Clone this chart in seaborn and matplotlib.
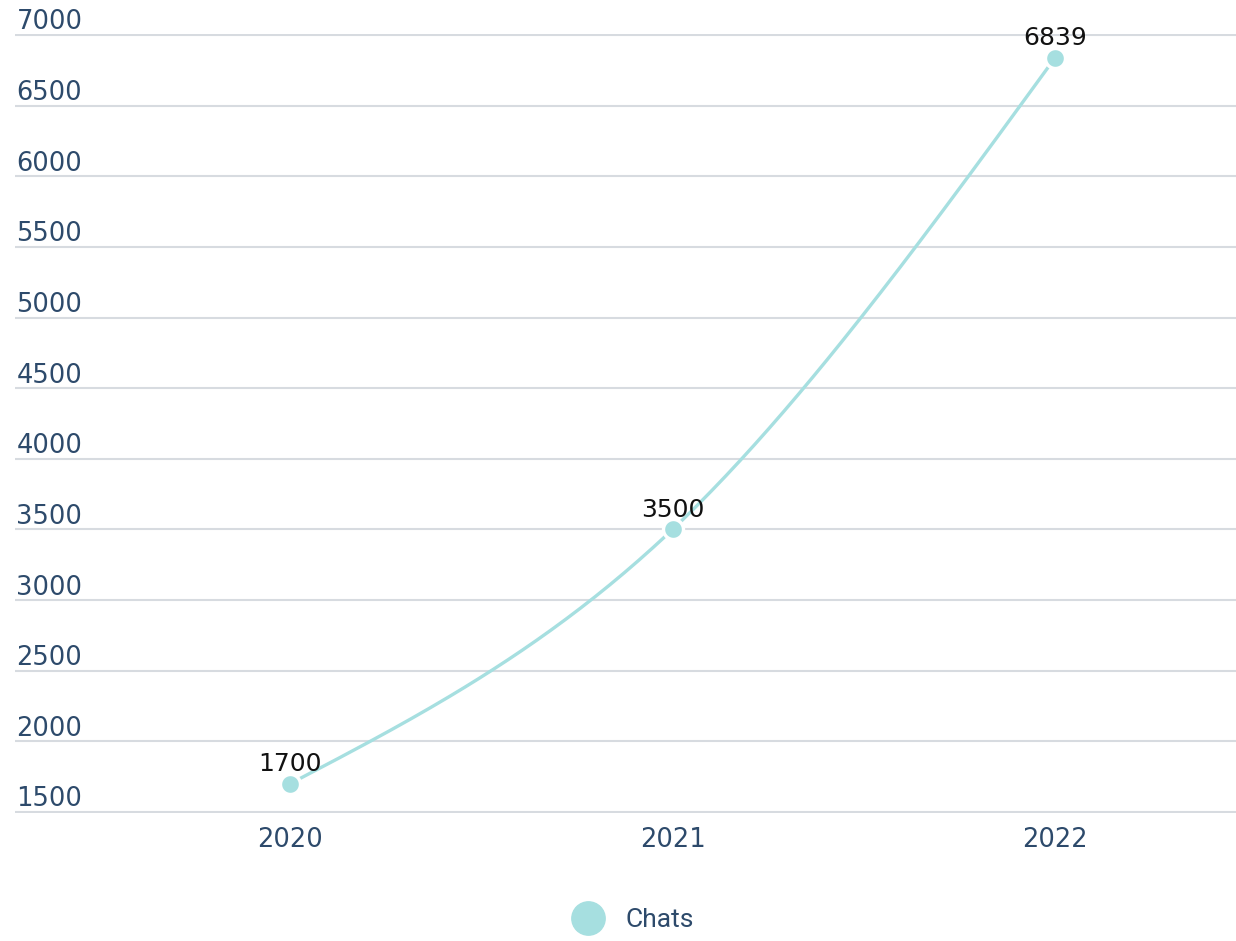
import numpy as np
import pandas as pd
import seaborn as sns
import matplotlib.pyplot as plt
from matplotlib.lines import Line2D

# Chart values
years = ['2020', '2021', '2022']
chats = [1700, 3500, 6839]
y_ticks = [1500, 2000, 2500, 3000, 3500, 4000, 4500, 5000, 5500, 6000, 6500, 7000]

teal = '#a6dfe0'
label_blue = '#2d4a6b'

sns.set_theme(style='white')
plt.rcParams['font.family'] = ['DejaVu Sans']

df = pd.DataFrame({'pos': np.arange(len(years)), 'chats': chats})

W, H = 1236, 941
fig = plt.figure(figsize=(W / 100, H / 100), dpi=100)
ax = fig.add_axes([15 / W, 1 - 813.4 / H, 1 - 15 / W, (813.4 - 33.6) / H])
ax.set_xlim(-0.719, 2.473)
ax.set_ylim(1490, 7010)

# natural cubic spline through the points for the smooth line
x = df['pos'].to_numpy(float)
y = df['chats'].to_numpy(float)
n = len(x)
h = np.diff(x)
A = np.zeros((n, n))
b = np.zeros(n)
A[0, 0] = A[-1, -1] = 1
for i in range(1, n - 1):
    A[i, i - 1] = h[i - 1]
    A[i, i] = 2 * (h[i - 1] + h[i])
    A[i, i + 1] = h[i]
    b[i] = 6 * ((y[i + 1] - y[i]) / h[i] - (y[i] - y[i - 1]) / h[i - 1])
M = np.linalg.solve(A, b)
xs, ys = [], []
for i in range(n - 1):
    t = np.linspace(x[i], x[i + 1], 80)
    a_ = (x[i + 1] - t) / h[i]
    b_ = (t - x[i]) / h[i]
    s = (a_ * y[i] + b_ * y[i + 1]
         + ((a_ ** 3 - a_) * M[i] + (b_ ** 3 - b_) * M[i + 1]) * h[i] ** 2 / 6)
    xs.append(t)
    ys.append(s)
curve_df = pd.DataFrame({'x': np.concatenate(xs), 'y': np.concatenate(ys)})

sns.lineplot(data=curve_df, x='x', y='y', sort=False, color=teal, lw=2.4, ax=ax, zorder=2)
sns.scatterplot(data=df, x='pos', y='chats', color=teal, s=207, edgecolor='white',
                linewidth=2.4, ax=ax, zorder=3)

# value labels
for p, v in zip(df['pos'], df['chats']):
    ax.annotate(str(v), (p, v), xytext=(0, 14), textcoords='offset points',
                ha='center', va='center', fontsize=18, color='#111111')

# y grid and labels sitting above the lines
ax.set_yticks(y_ticks)
ax.grid(axis='y', color='#d7dbe0', lw=1.5)
ax.grid(axis='x', visible=False)
ax.tick_params(axis='y', left=False, labelleft=False)
for v in y_ticks:
    ax.annotate(str(v), (0, v), xycoords=('axes fraction', 'data'), xytext=(1, 4),
                textcoords='offset points', ha='left', va='baseline',
                fontsize=18.5, color=label_blue)

ax.set_xticks(df['pos'], years)
ax.tick_params(axis='x', bottom=False, pad=4, labelsize=18.5, labelcolor=label_blue)
ax.set_xlabel('')
ax.set_ylabel('')
for s in ax.spines.values():
    s.set_visible(False)

handle = Line2D([], [], ls='none', marker='o', markersize=24, color=teal)
leg = fig.legend(handles=[handle], labels=['Chats'], loc='center',
                 bbox_to_anchor=(0.508, 0.0223), frameon=False, handletextpad=0.4,
                 prop={'family': 'Roboto', 'size': 19})
for txt in leg.get_texts():
    txt.set_color(label_blue)

fig.savefig('out.png', dpi=100)
